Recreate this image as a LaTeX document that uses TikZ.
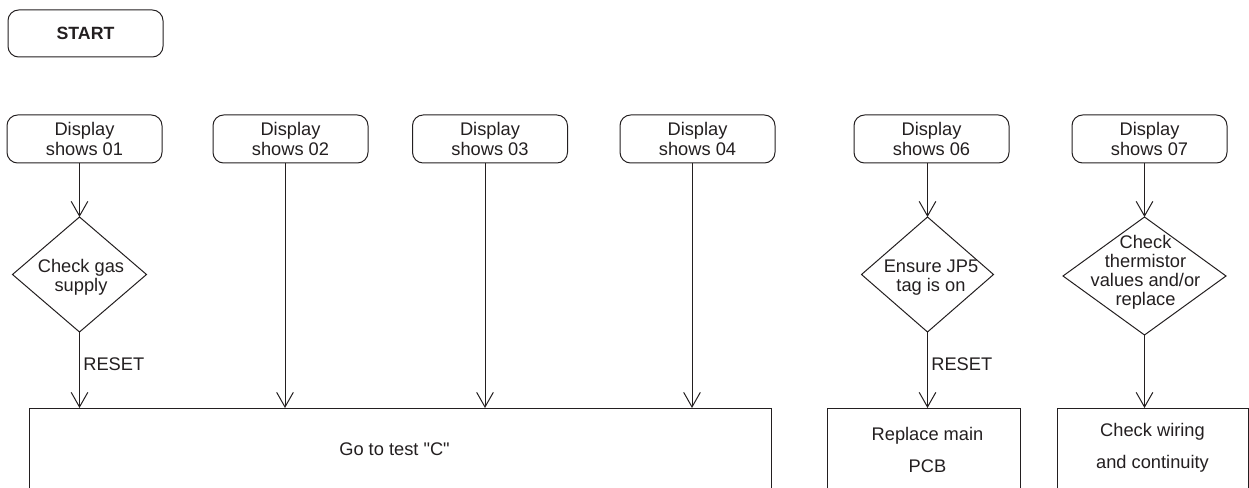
\documentclass[tikz,border=0pt]{standalone}
\usepackage{fontspec}
\setmainfont{Liberation Sans}[Ligatures=TeXOff]
\usetikzlibrary{shapes.geometric,arrows.meta}
\definecolor{ink}{RGB}{35,31,32}

\tikzset{every picture/.style={line width=0.75pt}}
\tikzset{
  basefont/.style={text=ink, font=\fontsize{13.7}{15}\selectfont},
  startbox/.style={draw=ink, rounded corners=8pt, minimum width=116.25pt, minimum height=35.25pt, inner sep=0pt, text=ink, font=\fontsize{13.3}{15}\selectfont\bfseries},
  dispbox/.style={basefont, draw=ink, rounded corners=8pt, minimum width=116.25pt, minimum height=36pt, inner sep=0pt, outer sep=0pt, align=center},
  checkdia/.style={draw=ink, diamond, inner sep=0pt, outer sep=0pt},
  diatext/.style={text=ink, align=center, inner sep=0pt, font=\fontsize{13.7}{14.25}\selectfont},
  resbox/.style={draw=ink, rectangle, minimum height=84pt, inner sep=0pt, outer sep=0pt},
  restext/.style={text=ink, align=center, inner sep=0pt, font=\fontsize{13.7}{24.4}\selectfont},
  flow/.style={draw=ink, -{Straight Barb[length=11pt,width=12.5pt]}},
  resetlbl/.style={basefont, anchor=west, inner sep=2.5pt}
}

\begin{document}
\begin{tikzpicture}[x=0.75pt,y=0.75pt,yscale=-1,xscale=1]
\path [use as bounding box] (0,0) rectangle (1249,488);
\clip (0,0) rectangle (1249,488);

%Shape: Rounded Rect
\node [startbox] (start) at (85.5,33.5) {START};

%Shape: Rounded Rect
\node [dispbox] (d01) at (84.5,139) {Display\\shows 01};
\node [dispbox] (d02) at (290.5,139) {Display\\shows 02};
\node [dispbox] (d03) at (490,139) {Display\\shows 03};
\node [dispbox] (d04) at (697.5,139) {Display\\shows 04};
\node [dispbox] (d06) at (931.5,139) {Display\\shows 06};
\node [dispbox] (d07) at (1149.5,139) {Display\\shows 07};

%Shape: Diamond
\node [checkdia, minimum width=100.5pt, minimum height=86.25pt] (c01) at (79.5,274.5) {};
\node [checkdia, minimum width=99pt, minimum height=86.25pt] (c06) at (927.5,274.5) {};
\node [checkdia, minimum width=122.25pt, minimum height=88.5pt] (c07) at (1144.5,276) {};

% Text Node
\node [diatext] (t01) at (81,277.7) {Check gas\\supply};
% Text Node
\node [diatext] (t06) at (931,277.7) {Ensure JP5\\tag is on};
% Text Node
\node [diatext] (t07) at (1145.5,272.3) {Check\\thermistor\\values and/or\\replace};

%Shape: Rectangle
\node [resbox, minimum width=556.5pt] (go) at (400,464) {};
\node [resbox, minimum width=144.75pt] (r06) at (923.5,464) {};
\node [resbox, minimum width=143.25pt] (r07) at (1152.5,464) {};

% Text Node
\node [restext] (tgo) at (394.5,449.3) {Go to test "C"};
% Text Node
\node [restext] (t06b) at (927.5,450) {Replace main\\PCB};
% Text Node
\node [restext] (t07b) at (1152.5,448) {Check wiring\\and continuity};

% arrow ends on the test "C" box
\coordinate (g02) at (285,408);
\coordinate (g03) at (485,408);
\coordinate (g04) at (692,408);

%Straight Lines
\draw [flow] (c01.north |- d01.south) -- (c01.north);
\draw [flow] (c01.south) -- node [resetlbl, pos=0.43] (rs01) {RESET} (c01.south |- go.north);
\draw [flow] (g02 |- d02.south) -- (g02);
\draw [flow] (g03 |- d03.south) -- (g03);
\draw [flow] (g04 |- d04.south) -- (g04);
\draw [flow] (c06.north |- d06.south) -- (c06.north);
\draw [flow] (c06.south) -- node [resetlbl, pos=0.43] (rs06) {RESET} (c06.south |- r06.north);
\draw [flow] (c07.north |- d07.south) -- (c07.north);
\draw [flow] (c07.south) -- (c07.south |- r07.north);

\end{tikzpicture}
\end{document}
